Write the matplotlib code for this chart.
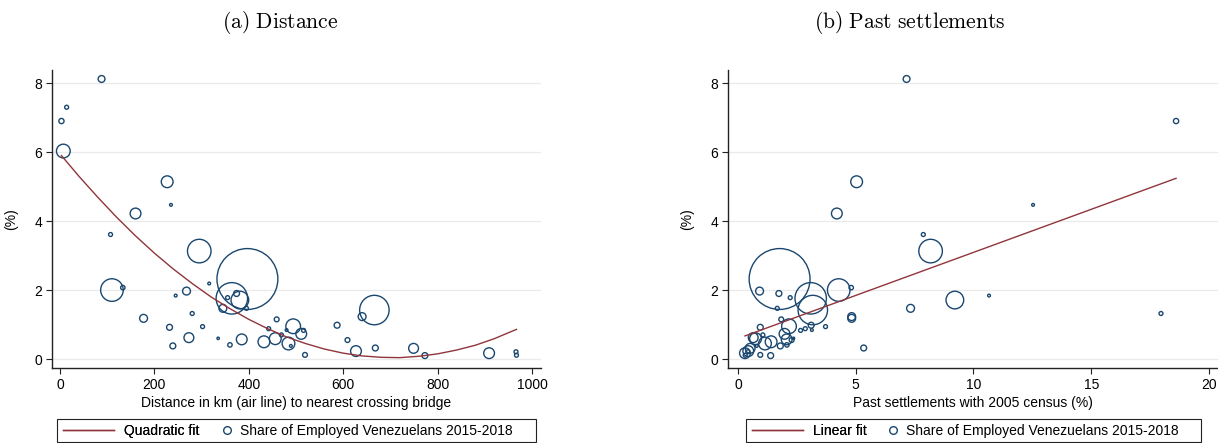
import numpy as np
import matplotlib.pyplot as plt
from matplotlib.lines import Line2D
from matplotlib.patches import Rectangle

plt.rcParams['font.family'] = ['Liberation Sans', 'DejaVu Sans']
plt.rcParams['mathtext.fontset'] = 'cm'
plt.rcParams['font.size'] = 10

navy = '#1a476f'
maroon = '#90353b'
nan = np.nan

# municipality data: share of employed Venezuelans (%), distance to the
# nearest crossing bridge (km), past settlements (% of 2005 census), weight
share = [8.12, 7.30, 6.90, 6.03, 5.14, 4.47, 4.22, 3.61, 3.13, 2.32,
         2.00, 2.07, 2.19, 1.97, 1.84, 1.76, 1.78, 1.90, 1.71, 1.47,
         1.47, 1.42, 1.23, 1.18, 1.32, 1.15, 0.98, 0.95, 0.92, 0.94,
         0.88, 0.84, 0.83, 0.73, 0.70, 0.62, 0.59, 0.60, 0.57, 0.55,
         0.50, 0.45, 0.38, 0.41, 0.38, 0.23, 0.32, 0.31, 0.10, 0.12,
         0.17, 0.21, 0.11]
distance = [88, 14, 3, 7, 227, 235, 160, 107, 295, 397,
            110, 133, 316, 268, 245, 364, 355, 374, 381, 345,
            395, 666, 640, 177, 280, 459, 587, 494, 232, 302,
            442, 480, 516, 511, 469, 273, 456, 335, 385, 609,
            432, 484, 489, 360, 239, 627, 668, 749, 773, 519,
            909, 966, 967]
settlements = [7.16, nan, 18.6, nan, 5.04, 12.53, 4.20, 7.87, 8.18, 1.77,
               4.28, 4.81, nan, 0.92, 10.66, 3.09, 2.22, 1.74, 9.21, 7.33,
               1.67, 3.18, 4.83, 4.83, 17.96, 1.84, 3.11, 2.17, 0.95, 3.72,
               2.86, 3.14, 2.66, 1.98, 1.06, 0.65, 0.75, 2.36, 2.07, 2.28,
               1.41, 1.15, 0.80, 2.08, 1.80, 0.44, 5.34, 0.52, 1.39, 0.95,
               0.30, 0.42, 0.31]
weight = [12, 4, 7, 49, 36, 2, 30, 4, 144, 961,
          132, 5, 2, 16, 2, 256, 4, 9, 81, 16,
          4, 225, 16, 16, 4, 6, 9, 56, 9, 4,
          4, 2, 4, 30, 4, 25, 36, 1.5, 30, 6,
          36, 42, 2, 5, 9, 30, 9, 25, 9, 6,
          30, 4, 4]

# fitted lines
qfit_x = [3, 40, 80, 120, 160, 200, 240, 280, 320, 360, 400, 440, 480,
          520, 560, 600, 640, 680, 720, 760, 800, 840, 880, 920, 967]
qfit_y = [5.90, 5.30, 4.69, 4.11, 3.57, 3.07, 2.61, 2.19, 1.80, 1.46, 1.15, 0.88, 0.64,
          0.45, 0.29, 0.17, 0.09, 0.05, 0.04, 0.08, 0.15, 0.26, 0.40, 0.59, 0.86]
lfit_x = [0.30, 18.6]
lfit_y = [0.67, 5.24]

W, H = 1218, 443
fig = plt.figure(figsize=(W / 100, H / 100), dpi=100)


def px_axes(left, top, right, bottom):
    return fig.add_axes([left / W, 1 - bottom / H, (right - left) / W, (bottom - top) / H])


def style(ax):
    for s in ['top', 'right']:
        ax.spines[s].set_visible(False)
    for s in ['left', 'bottom']:
        ax.spines[s].set_color('#222222')
        ax.spines[s].set_linewidth(1.0)
    ax.tick_params(direction='out', length=4, width=0.8, color='#222222', labelsize=10, pad=3)
    ax.set_yticks([0, 2, 4, 6, 8])
    ax.set_ylim(-0.26, 8.38)
    ax.yaxis.grid(True, color='#eaeaea', lw=0.9)
    ax.set_axisbelow(True)
    ax.set_ylabel('(%)', fontsize=10)
    ax.yaxis.set_label_coords(-0.07, 0.5)
    ax.xaxis.set_label_coords(0.5, -0.094)


sizes = np.array(weight) * 2.0

ax1 = px_axes(52, 70, 541, 368)
style(ax1)
ax1.scatter(distance, share, s=sizes, facecolors='none', edgecolors=navy, linewidths=1.0, zorder=3)
ax1.plot(qfit_x, qfit_y, color=maroon, lw=1.0, zorder=4)
ax1.set_xlim(-17, 1019)
ax1.set_xticks([0, 200, 400, 600, 800, 1000])
ax1.set_xlabel('Distance in km (air line) to nearest crossing bridge', fontsize=10)
ax1.xaxis.label.set_va('top')

ax2 = px_axes(728, 70, 1218, 368)
style(ax2)
ax2.scatter(settlements, share, s=sizes, facecolors='none', edgecolors=navy, linewidths=1.0, zorder=3)
ax2.plot(lfit_x, lfit_y, color=maroon, lw=1.0, zorder=4)
ax2.set_xlim(-0.42, 20.38)
ax2.set_xticks([0, 5, 10, 15, 20])
ax2.set_xlabel('Past settlements with 2005 census (%)', fontsize=10)
ax2.xaxis.label.set_va('top')

line_key = Line2D([], [], color=maroon, lw=1.0)
dot_key = Line2D([], [], ls='none', marker='o', ms=5.5, mfc='none', mec=navy, mew=1.0)


def add_legend(fit_label, line_x, dot_x, box):
    yc = 1 - 431 / H
    leg1 = fig.legend([line_key], [fit_label], loc='center left', bbox_to_anchor=(line_x / W, yc),
                      frameon=False, borderpad=0, borderaxespad=0, handlelength=3.7,
                      handletextpad=0.7, fontsize=10)
    fig.add_artist(leg1)
    fig.legend([dot_key], ['Share of Employed Venezuelans 2015-2018'], loc='center left',
               bbox_to_anchor=(dot_x / W, yc), frameon=False, borderpad=0, borderaxespad=0,
               handlelength=1.0, handletextpad=0.45, fontsize=10)
    x0, x1 = box
    fig.add_artist(Rectangle((x0 / W, 1 - 442 / H), (x1 - x0) / W, (442 - 419) / H,
                             transform=fig.transFigure, fill=False, ec='#222222', lw=0.8))


add_legend('Quadratic fit', 63, 220, (57, 536))
add_legend('Linear fit', 752, 886, (746, 1201))

fig.text(280 / W, 1 - 22 / H, r'$\mathrm{(a)\ Distance}$', ha='center', va='center', fontsize=15.5)
fig.text(910 / W, 1 - 22 / H, r'$\mathrm{(b)\ Past\ settlements}$', ha='center', va='center', fontsize=15.5)

fig.savefig('out.png', dpi=100)
